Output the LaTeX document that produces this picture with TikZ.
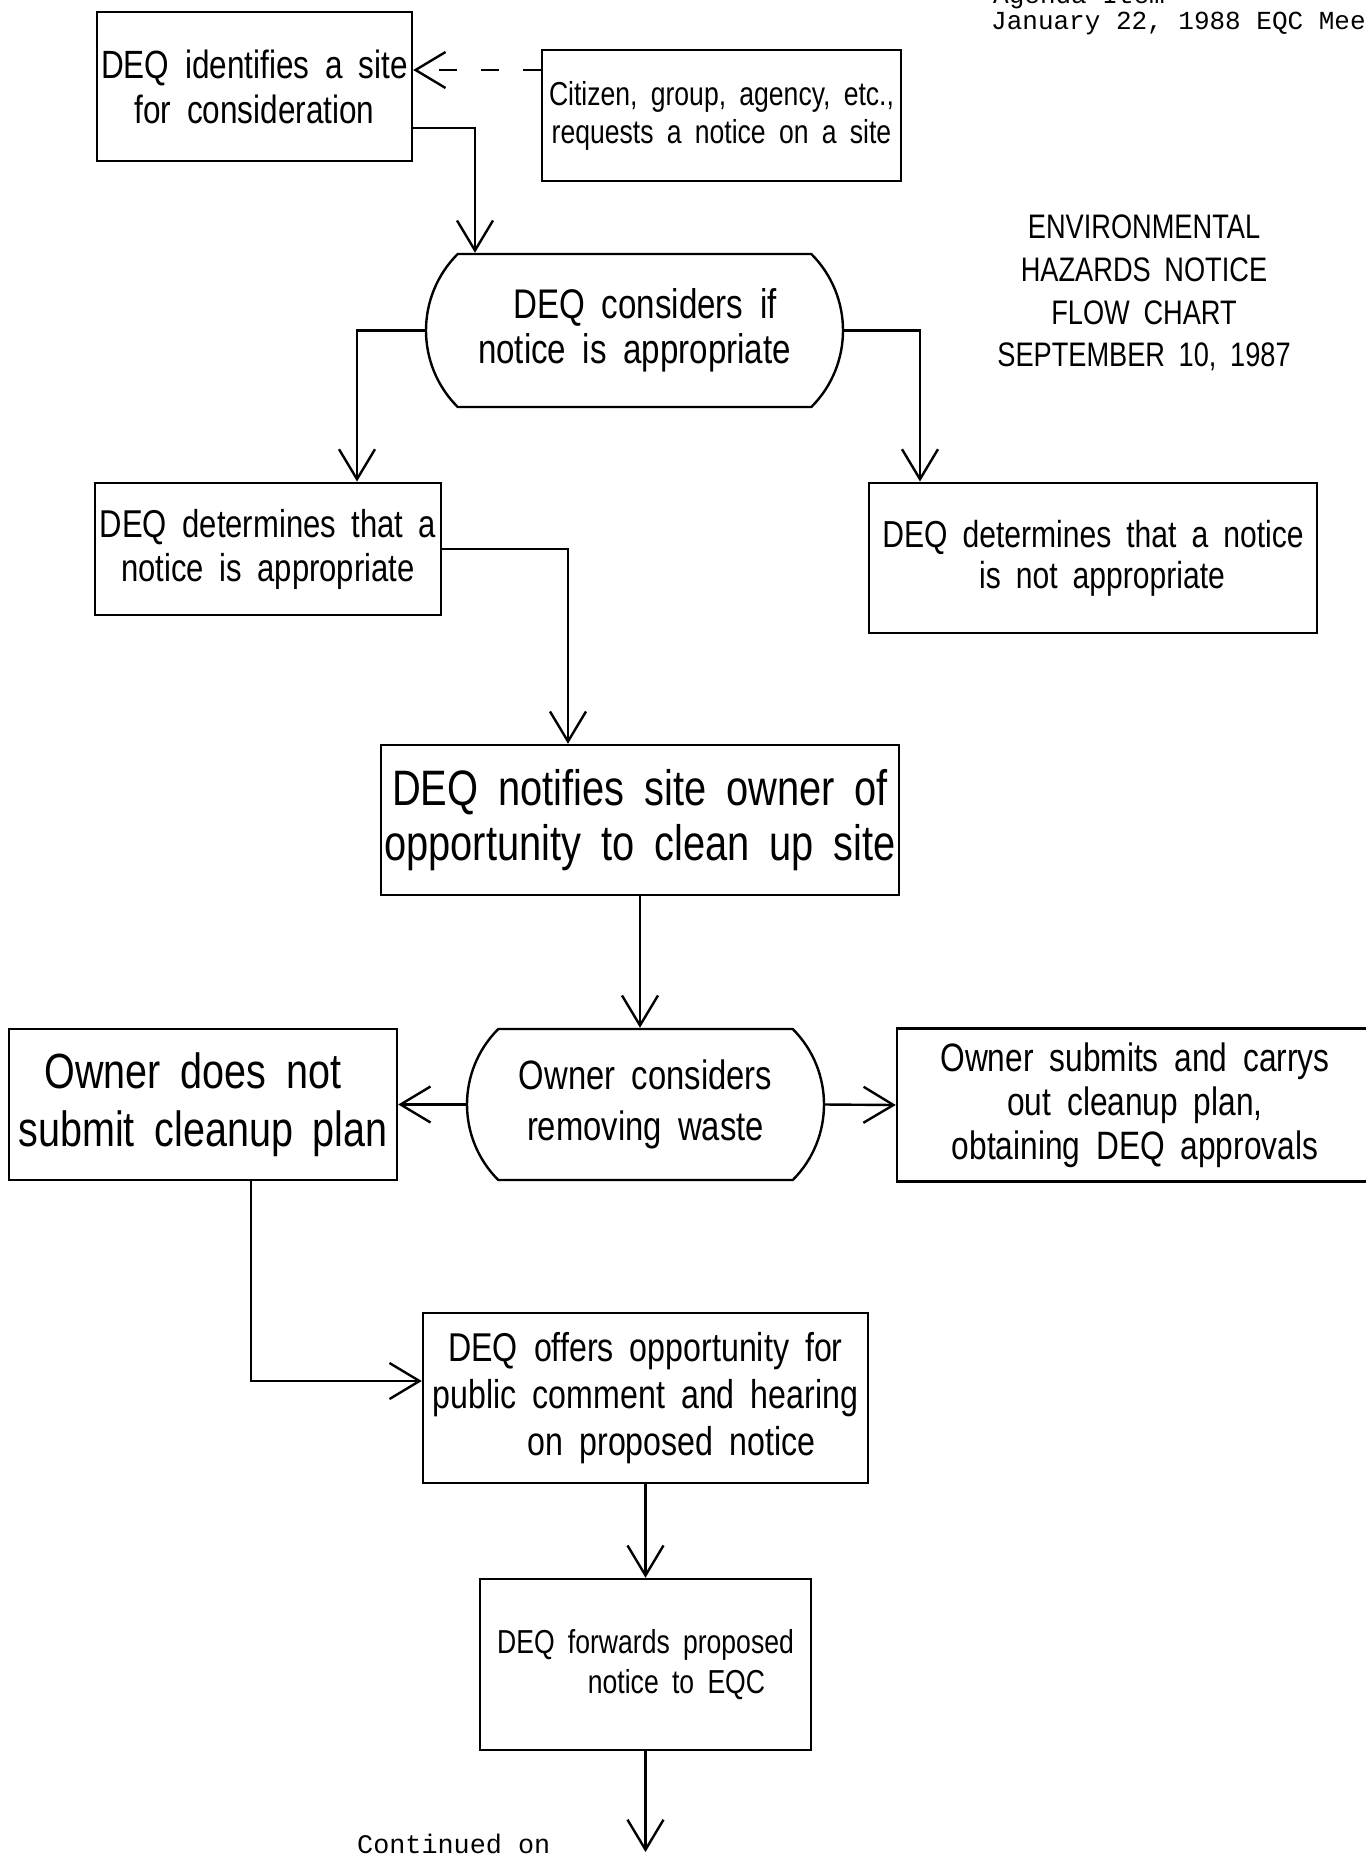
\documentclass[tikz,border=0pt]{standalone}
\usepackage{fontspec}
\setmainfont[FakeStretch=0.8,WordSpace=1.8]{Liberation Sans}
\newfontfamily\monofnt{Liberation Mono}
\usetikzlibrary{arrows.meta,shapes.misc,calc}
\begin{document}
\begin{tikzpicture}[x=0.5pt,y=-0.5pt,
  line width=1.2pt,
  box/.style={draw, rectangle, inner sep=0pt, align=center},
  decis/.style={draw, rounded rectangle, rounded rectangle arc length=90, inner sep=0pt, align=center},
  arr/.style={-{Straight Barb[length=15pt,width=18pt,line width=1.2pt]}},
  dasharr/.style={arr, dash pattern=on 9pt off 12pt},
  mono/.style={anchor=base west, inner sep=0pt},
]
\useasboundingbox (0,0) rectangle (1366,1854);
\clip (0,0) rectangle (1366,1854);

% header
\node[mono, font=\monofnt\fontsize{13}{15}\selectfont] (hdr0) at (992,3) {Agenda Item};
\node[mono, font=\monofnt\fontsize{13}{15}\selectfont] (hdr) at (990,29) {January 22, 1988 EQC Meeting};

% title
\node[align=center, font=\fontsize{17}{21.3}\selectfont] (title) at (1144,293)
  {ENVIRONMENTAL\\HAZARDS NOTICE\\FLOW CHART\\SEPTEMBER 10, 1987};

% nodes
\node[box, minimum width=157.5pt, minimum height=74.5pt, font=\fontsize{19.7}{22.5}\selectfont] (b1) at (254.5,86.5)
  {DEQ identifies a site\\for consideration};
\node[box, minimum width=179.5pt, minimum height=65.5pt, font=\fontsize{16.6}{19}\selectfont] (b2) at (721.5,115.5)
  {Citizen, group, agency, etc.,\\requests a notice on a site};
\node[decis, minimum width=208.5pt, minimum height=76.5pt, font=\fontsize{20.7}{22.5}\selectfont] (d1) at (634.5,330.5)
  {\hspace*{10.6pt}DEQ considers if\\notice is appropriate};
\node[box, minimum width=173pt, minimum height=66.25pt, font=\fontsize{19.4}{22}\selectfont] (b3) at (268,549)
  {DEQ determines that a\\notice is appropriate};
\node[box, minimum width=224pt, minimum height=75.25pt, font=\fontsize{18.8}{20.7}\selectfont] (b4) at (1093,558)
  {DEQ determines that a notice\\\hspace*{9pt}is not appropriate};
\node[box, minimum width=259pt, minimum height=75pt, font=\fontsize{24.9}{27.2}\selectfont] (b5) at (640,820)
  {DEQ notifies site owner of\\opportunity to clean up site};
\node[decis, minimum width=178.5pt, minimum height=75.5pt, font=\fontsize{20.5}{25.4}\selectfont] (d2) at (645.5,1104.5)
  {Owner considers\\removing waste};
\node[box, minimum width=194pt, minimum height=75.5pt, font=\fontsize{24.7}{29}\selectfont] (b6) at (203,1104.5)
  {Owner does not\hspace*{10pt}\\submit cleanup plan};
\node[box, minimum width=238pt, minimum height=76.5pt, font=\fontsize{19.8}{22}\selectfont] (b7) at (1135,1105)
  {Owner submits and carrys\\out cleanup plan,\\obtaining DEQ approvals};
\node[box, minimum width=222.5pt, minimum height=85pt, font=\fontsize{20.1}{23.6}\selectfont] (b8) at (645.5,1398)
  {DEQ offers opportunity for\\public comment and hearing\\\hspace*{26pt}on proposed notice};
\node[box, minimum width=165.5pt, minimum height=85.5pt, font=\fontsize{16.6}{20}\selectfont] (b9) at (645.5,1664.5)
  {DEQ forwards proposed\\\hspace*{31pt}notice to EQC};

\node[mono, font=\monofnt\fontsize{13.4}{16}\selectfont] (cont) at (356,1853) {Continued on};

% connectors
\coordinate (dA) at ([yshift=22.75pt]b2.west);
\draw[dasharr] (dA) -- (dA -| b1.east);
\draw[arr] ([yshift=-20.75pt]b1.east) -| ([xshift=-79.75pt]d1.north);
\draw[arr] (d1.west) -| ([xshift=44.5pt]b3.north);
\draw[arr] (d1.east) -| ([xshift=-86.5pt]b4.north);
\draw[arr] (b3.east) -| ([xshift=-36pt]b5.north);
\draw[arr] (b5.south) -- (b5.south |- d2.north);
\draw[arr] (d2.west) -- (b6.east);
\draw[arr] (d2.east) -- (b7.west);
\draw[arr] ([xshift=24pt]b6.south) |- ([yshift=8.5pt]b8.west);
\draw[arr] (b8.south) -- (b8.south |- b9.north);
\coordinate (cend) at (645.5,1852);
\draw[arr] (b9.south) -- (cend);
\end{tikzpicture}
\end{document}
